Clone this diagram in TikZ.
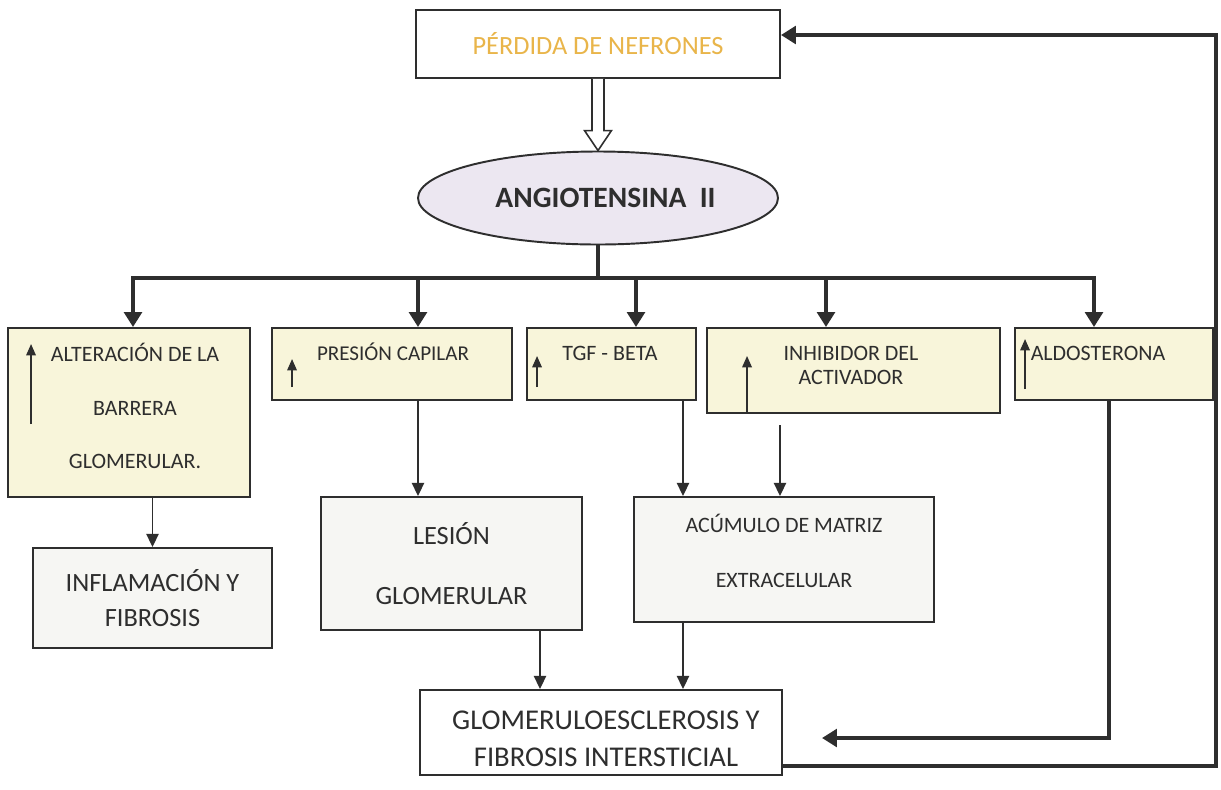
\documentclass[tikz,border=0pt]{standalone}
\usepackage{fontspec}
\setmainfont{Carlito}
\usetikzlibrary{shapes.geometric,arrows.meta,calc}

\definecolor{boxyellow}{HTML}{F8F5DA}
\definecolor{boxgray}{HTML}{F6F6F3}
\definecolor{ovalfill}{HTML}{ECE7F1}
\definecolor{goldtext}{HTML}{E9B54A}
\definecolor{ink}{HTML}{2E2E2E}

\tikzset{
  box/.style={draw=ink, line width=1.1pt, inner sep=0pt, text=ink},
  upbox/.style={box, fill=boxyellow},
  lowbox/.style={box, fill=boxgray},
  txt/.style={text=ink, align=center, inner sep=0pt},
  thickline/.style={draw=ink, line width=2.3pt},
  thickarrow/.style={thickline, -{Triangle[width=10pt,length=8.5pt]}},
  thinarrow/.style={draw=ink, line width=0.85pt, -{Triangle[width=7pt,length=7.5pt]}},
  uparrow/.style={draw=ink, line width=0.8pt, -{Triangle[width=5.5pt,length=6.5pt]}},
}

\begin{document}
\begin{tikzpicture}
      \fill[white] (0,0) rectangle (24.42,-15.78);
      \useasboundingbox (0,0) rectangle (24.42,-15.78);

      % top of the chart
      \node[box, minimum width=7.28cm, minimum height=1.36cm, text=goldtext,
        font=\fontsize{15}{17}\selectfont] (nefronas) at (11.96,-0.88) {PÉRDIDA DE NEFRONES};
      \node[ellipse, draw=ink, line width=1.1pt, fill=ovalfill, minimum width=7.2cm,
        minimum height=1.86cm, inner sep=0pt, text=ink,
        font=\bfseries\fontsize{16.8}{20}\selectfont] (angio) at (11.96,-3.96) {\hspace{0.3cm}ANGIOTENSINA\ \ II};

      % hollow arrow between them
      \draw[draw=ink, line width=0.9pt, fill=white]
        ($(nefronas.south)+(-0.12,0)$) -- ($(angio.north)+(-0.12,0.4)$)
        -- ($(angio.north)+(-0.27,0.4)$) -- (angio.north)
        -- ($(angio.north)+(0.27,0.4)$) -- ($(angio.north)+(0.12,0.4)$)
        -- ($(nefronas.south)+(0.12,0)$);

      % second row
      \node[upbox, minimum width=4.84cm, minimum height=3.38cm] (barrera) at (2.58,-8.25) {};
      \node[txt, font=\fontsize{12.5}{30.5}\selectfont] (barreratext) at (2.7,-8.12)
        {ALTERACIÓN DE LA\\BARRERA\\GLOMERULAR.};
      \node[upbox, minimum width=4.8cm, minimum height=1.44cm] (presion) at (7.84,-7.28) {};
      \node[txt, font=\fontsize{12}{14}\selectfont] (presiontext) at (7.86,-7.04) {PRESIÓN CAPILAR};
      \node[upbox, minimum width=3.38cm, minimum height=1.44cm] (tgf) at (12.23,-7.28) {};
      \node[txt, font=\fontsize{12.5}{14}\selectfont] (tgftext) at (12.2,-7.06) {TGF - BETA};
      \node[upbox, minimum width=5.86cm, minimum height=1.7cm] (inhibidor) at (17.07,-7.41) {};
      \node[txt, font=\fontsize{12.5}{13.6}\selectfont] (inhibidortext) at (17.02,-7.3)
        {INHIBIDOR DEL\\ACTIVADOR};
      \node[upbox, minimum width=3.96cm, minimum height=1.44cm] (aldos) at (22.28,-7.28) {};
      \node[txt, font=\fontsize{12.5}{14}\selectfont] (aldostext) at (21.96,-7.06) {ALDOSTERONA};

      % small up arrows
      \draw[uparrow] ($(barrera.north west)+(0.48,-1.94)$) -- ++(0,1.6);
      \draw[uparrow] ($(presion.north west)+(0.42,-1.2)$) -- ++(0,0.56);
      \draw[uparrow] ($(tgf.north west)+(0.22,-1.2)$) -- ++(0,0.62);
      \draw[uparrow] ($(inhibidor.south west)+(0.82,0)$) -- ++(0,1.16);
      \draw[uparrow] ($(aldos.north west)+(0.22,-1.24)$) -- ++(0,1.0);

      % third row
      \node[lowbox, minimum width=4.78cm, minimum height=2.0cm, align=center,
        font=\fontsize{15}{20.4}\selectfont] (inflam) at (3.05,-11.96) {INFLAMACIÓN Y\\FIBROSIS};
      \node[lowbox, minimum width=5.22cm, minimum height=2.66cm, align=center,
        font=\fontsize{15}{34}\selectfont] (lesion) at (9.03,-11.27) {LESIÓN\\GLOMERULAR};
      \node[lowbox, minimum width=6.0cm, minimum height=2.5cm] (acumulo) at (15.68,-11.19) {};
      \node[txt, font=\fontsize{12.5}{31.2}\selectfont] (acumulotext) at (15.68,-11.01)
        {ACÚMULO DE MATRIZ\\EXTRACELULAR};
      \node[box, fill=white, minimum width=7.24cm, minimum height=1.7cm] (glomerulo) at (12.02,-14.65) {};
      \node[txt, font=\fontsize{16.3}{21}\selectfont] (glomerulotext) at (12.12,-14.77)
        {GLOMERULOESCLEROSIS Y\\FIBROSIS INTERSTICIAL};

      % thick branching from angiotensina
      \coordinate (busmid) at (11.96,-5.56);
      \draw[thickline] (angio.south) -- (busmid);
      \draw[thickarrow] (busmid) -| ($(barrera.north)+(0.08,0)$);
      \draw[thickarrow] (busmid) -| ($(aldos.north)+(-0.4,0)$);
      \foreach \bx/\tgt in {8.36/presion, 12.72/tgf, 16.52/inhibidor}
        \draw[thickarrow] (\bx,-5.56) -- (\tgt.north -| {\bx},0);

      % thin arrows
      \coordinate (presionout) at ([xshift=0.52cm]presion.south);
      \coordinate (tgfout) at ([xshift=1.43cm]tgf.south);
      \coordinate (inhibout) at (15.6,-8.5);
      \coordinate (lesionout) at ([xshift=1.77cm]lesion.south);
      \coordinate (acumuloout) at ([xshift=-2.02cm]acumulo.south);
      \draw[thinarrow] (barrera.south -| inflam.north) -- (inflam.north);
      \draw[thinarrow] (presionout) -- (presionout |- lesion.north);
      \draw[thinarrow] (tgfout) -- (tgfout |- acumulo.north);
      \draw[thinarrow] (inhibout) -- (inhibout |- acumulo.north);
      \draw[thinarrow] (lesionout) -- (lesionout |- glomerulo.north);
      \draw[thinarrow] (acumuloout) -- (acumuloout |- glomerulo.north);

      % aldosterona down to glomeruloesclerosis
      \coordinate (aldosend) at (16.44,-14.76);
      \draw[thickarrow] ([xshift=-0.1cm]aldos.south) |- (aldosend);

      % feedback loop back to the top
      \coordinate (loopstart) at ($(glomerulo.south east)+(0,0.2)$);
      \coordinate (loopcorner) at (24.32,-0.7);
      \draw[thickarrow] (loopstart) -| (loopcorner) -- (loopcorner -| nefronas.east);
\end{tikzpicture}
\end{document}
